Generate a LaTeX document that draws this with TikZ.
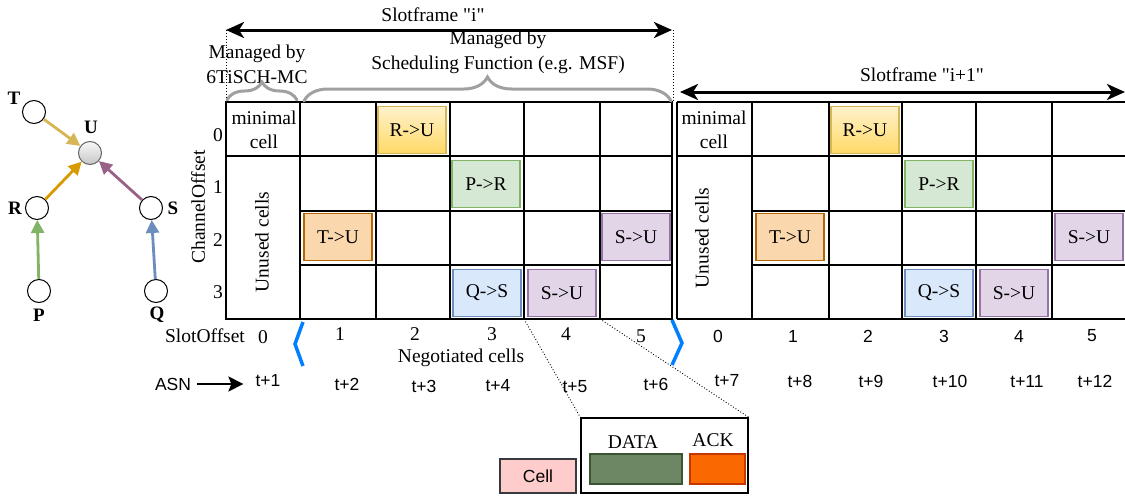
\documentclass[tikz,border=0pt]{standalone}
\usepackage{fontspec}
\setmainfont{Liberation Serif}[Ligatures=TeXOff]
\newfontfamily\arialfont{Liberation Sans}
\usetikzlibrary{
    arrows.meta,
    decorations.pathreplacing,
    positioning,
    calc
}
\definecolor{ruTop}{HTML}{FFF2CC}
\definecolor{ruBot}{HTML}{FFD966}
\definecolor{ruLine}{HTML}{D6B656}
\definecolor{prFill}{HTML}{D5E8D4}
\definecolor{prLine}{HTML}{82B366}
\definecolor{tuFill}{HTML}{FAD7AC}
\definecolor{tuLine}{HTML}{B46504}
\definecolor{suFill}{HTML}{E1D5E7}
\definecolor{suLine}{HTML}{9673A6}
\definecolor{qsFill}{HTML}{DAE8FC}
\definecolor{qsLine}{HTML}{6C8EBF}
\definecolor{rLink}{HTML}{D79B00}
\definecolor{sLink}{HTML}{996185}
\definecolor{braceGray}{HTML}{A0A0A0}
\definecolor{negBlue}{HTML}{007FFF}
\definecolor{dataFill}{HTML}{6D8764}
\definecolor{dataLine}{HTML}{3A5431}
\definecolor{ackFill}{HTML}{FA6800}
\definecolor{ackLine}{HTML}{C73500}
\definecolor{cellFill}{HTML}{FFCCCC}
\definecolor{cellLine}{HTML}{36393D}

\begin{document}
\begin{tikzpicture}[x=1pt, y=-1pt,
        every node/.style={font=\fontsize{19.5}{24}\selectfont, inner sep=2pt},
        sans/.style={font=\arialfont\fontsize{17.5}{20}\selectfont},
        mote/.style={circle, draw, line width=1pt, fill=white, minimum size=23pt, inner sep=0pt},
        motename/.style={font=\bfseries\fontsize{19}{22}\selectfont, inner sep=1pt},
        link/.style={-{Triangle[length=13pt, width=13pt]}, line width=2.8pt},
        gridline/.style={line width=1.4pt},
        cellbox/.style={draw, line width=1.2pt, minimum width=68pt, minimum height=47pt, inner sep=0pt},
        ru/.style={cellbox, draw=ruLine, top color=ruTop, bottom color=ruBot},
        pr/.style={cellbox, draw=prLine, fill=prFill},
        tu/.style={cellbox, draw=tuLine, fill=tuFill},
        su/.style={cellbox, draw=suLine, fill=suFill},
        qs/.style={cellbox, draw=qsLine, fill=qsFill},
        span/.style={{Stealth[length=18pt, width=16pt, inset=5pt]}-{Stealth[length=18pt, width=16pt, inset=5pt]}, line width=3pt},
        brc/.style={draw=braceGray, line width=3pt, line cap=round, decorate, decoration={brace, amplitude=#1}},
        negbr/.style={draw=negBlue, line width=3.5pt},
        zoomline/.style={dotted, line width=0.9pt}
    ]
        \useasboundingbox (0,0) rectangle (1125,498);
        \fill[white] (0,0) rectangle (1125,498);

        \node[mote] (t) at (34,112) {};
        \node[mote, draw=gray!80!black, top color=gray!5, bottom color=gray!45] (u) at (90,153) {};
        \node[mote] (r) at (37,208) {};
        \node[mote] (s) at (151,208) {};
        \node[mote] (p) at (39,291) {};
        \node[mote] (q) at (156,291) {};
        \node[motename] (tl) at (14,98) {T};
        \node[motename] (ul) at (91,127) {U};
        \node[motename] (rl) at (15,208) {R};
        \node[motename] (sl) at (173,208) {S};
        \node[motename] (pl) at (39,315) {P};
        \node[motename] (ql) at (157,315) {Q};
        \draw
        (t) edge[link, draw=ruLine] (u)
        (r) edge[link, draw=rLink] (u)
        (s) edge[link, draw=sLink] (u)
        (p) edge[link, draw=prLine] (r)
        (q) edge[link, draw=qsLine] (s);

        \coordinate (g1nw) at (226,102);
        \coordinate (g1ne) at (672,102);
        \coordinate (g1b4) at (524,319);
        \coordinate (g1b5) at (600,319);
        \draw[gridline] (226,102) rectangle (672,319)
        (226,156) -- (672,156) (300,211) -- (672,211) (300,265) -- (672,265)
        (300,102) -- (300,319) (376,102) -- (376,319) (450,102) -- (450,319)
        (524,102) -- (524,319) (600,102) -- (600,319);
        \draw[gridline] (677,102) -- (1127,102) (677,156) -- (1127,156) (677,319) -- (1127,319)
        (752,211) -- (1127,211) (752,265) -- (1127,265)
        (677,102) -- (677,319) (752,102) -- (752,319) (829,102) -- (829,319)
        (902,102) -- (902,319) (976,102) -- (976,319) (1052,102) -- (1052,319);

        \node[ru] (ru1) at (412,130) {R->U};
        \node[pr] (pr1) at (486,184) {P->R};
        \node[tu] (tu1) at (338,237) {T->U};
        \node[su] (su1) at (636,237) {S->U};
        \node[qs] (qs1) at (487,293) {Q->S};
        \node[su] (su2) at (562,293) {S->U};
        \node[ru] (ru2) at (865,130) {R->U};
        \node[pr] (pr2) at (939,184) {P->R};
        \node[tu] (tu2) at (790,237) {T->U};
        \node[su] (su3) at (1089,237) {S->U};
        \node[qs] (qs2) at (939,293) {Q->S};
        \node[su] (su4) at (1014,293) {S->U};

        \node[align=center] (min1) at (264,130) {minimal\\cell};
        \node[align=center] (min2) at (714,130) {minimal\\cell};
        \node[rotate=90] (unu1) at (262,242) {Unused cells};
        \node[rotate=90] (unu2) at (702,238) {Unused cells};

        \node[rotate=90] (chan) at (198,207) {ChannelOffset};
        \node (c0) at (218,135) {0};
        \node (c1) at (218,187) {1};
        \node (c2) at (218,240) {2};
        \node (c3) at (218,292) {3};

        \coordinate (sfl) at (226,30);
        \coordinate (sfr) at (672,30);
        \draw[span] (sfl) -- (sfr);
        \node (sfi) at (433,15) {Slotframe "i"};
        \draw[zoomline] (sfl) -- (g1nw);
        \draw[zoomline] (673,30) -- (673,102);
        \coordinate (sfl2) at (680,92);
        \coordinate (sfr2) at (1125,92);
        \draw[span] (sfl2) -- (sfr2);
        \node (sfi2) at (922,75) {Slotframe "i+1"};

        \node[align=center, font=\fontsize{19.5}{25}\selectfont] (mc) at (257,64) {Managed by\\6TiSCH-MC};
        \node[align=center, font=\fontsize{19.5}{25}\selectfont] (sf) at (498,52) {Managed by\\Scheduling Function (e.g. MSF)};
        \draw[brc=18pt] (227,100) -- (297,100);
        \draw[brc=24pt] (304,101) -- (671,101);

        \node (so) at (205,336) {SlotOffset};
        \node (s10) at (263,337) {0};
        \node (s11) at (340,334) {1};
        \node (s12) at (415,334) {2};
        \node (s13) at (492,334) {3};
        \node (s14) at (566,334) {4};
        \node (s15) at (641,336) {5};
        \node[sans] (s20) at (718,336) {0};
        \node[sans] (s21) at (793,336) {1};
        \node[sans] (s22) at (868,336) {2};
        \node[sans] (s23) at (944,336) {3};
        \node[sans] (s24) at (1019,336) {4};
        \node[sans] (s25) at (1092,336) {5};
        \draw[negbr] (303,322) -- (295,344) -- (303,366);
        \draw[negbr] (672,320) -- (682,343) -- (672,365);
        \node (neg) at (461,358) {Negotiated cells};

        \node[sans] (asn) at (173,384) {ASN};
        \node[sans] (t1) at (268,381) {t+1};
        \node[sans] (t2) at (347,384) {t+2};
        \node[sans] (t3) at (424,386) {t+3};
        \node[sans] (t4) at (498,386) {t+4};
        \node[sans] (t5) at (575,387) {t+5};
        \node[sans] (t6) at (656,384) {t+6};
        \node[sans] (t7) at (727,381) {t+7};
        \node[sans] (t8) at (800,381) {t+8};
        \node[sans] (t9) at (871,381) {t+9};
        \node[sans] (t10) at (950,381) {t+10};
        \node[sans] (t11) at (1027,382) {t+11};
        \node[sans] (t12) at (1095,381) {t+12};
        \draw[-{Stealth[length=15pt, width=15pt, inset=3pt]}, line width=2.5pt, shorten <=4pt, shorten >=10pt] (asn.east) -- (asn.east -| t1.west);

        \node[draw, line width=1.5pt, minimum width=167pt, minimum height=75pt, inner sep=0pt] (zoombox) at (664.5,455.5) {};
        \draw[zoomline] (g1b4) -- (zoombox.north west);
        \draw[zoomline] (g1b5) -- (zoombox.north east);
        \node (datal) at (633,442) {DATA};
        \node[draw=dataLine, fill=dataFill, line width=1.2pt, minimum width=92pt, minimum height=30pt, inner sep=0pt] (datab) at (636,469) {};
        \node (ackl) at (713,440) {ACK};
        \node[draw=ackLine, fill=ackFill, line width=1.2pt, minimum width=55pt, minimum height=30pt, inner sep=0pt] (ackb) at (717.5,469) {};
        \node[sans, draw=cellLine, fill=cellFill, line width=1.2pt, minimum width=76pt, minimum height=34pt, inner sep=0pt] (cellb) at (538,476) {Cell};
    \end{tikzpicture}
\end{document}
